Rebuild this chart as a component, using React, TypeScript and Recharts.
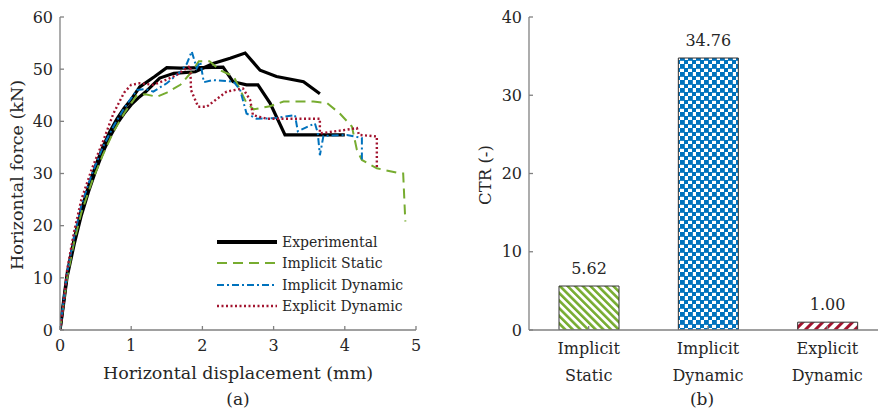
import { LineChart, Line, XAxis, YAxis, BarChart, Bar, Cell, LabelList } from "recharts";

const FONT = '"DejaVu Serif", serif';
const INK = "#262626";
const AXIS = "#808080";

const BLACK = "#000000";
const GREEN = "#77AC30";
const BLUE = "#0072BD";
const RED = "#A2142F";

// (a) force–displacement curves, x in mm, y in kN
const expAX = [0, 0.05, 0.1, 0.2, 0.3, 0.4, 0.5, 0.6, 0.7, 0.8, 0.9, 1.0, 1.1, 1.2, 1.4, 1.6, 1.9, 2.15, 2.39, 2.6, 2.81, 3.04, 3.42, 3.65];
const expAY = [0, 5, 10.2, 16.5, 22, 26.5, 30.5, 34, 37, 39.5, 41.5, 43.2, 44.5, 45.6, 48.3, 49.2, 49.5, 51.1, 52.1, 53.1, 49.8, 48.6, 47.6, 45.3];

const expBX = [0, 0.05, 0.1, 0.2, 0.3, 0.4, 0.5, 0.6, 0.7, 0.8, 0.9, 1.0, 1.12, 1.33, 1.5, 1.69, 2.29, 2.43, 2.62, 2.78, 2.95, 3.16, 4.0];
const expBY = [0, 5.5, 10.8, 17.5, 23, 27.5, 31.5, 35, 38, 40.5, 42.5, 44.2, 46.6, 48.6, 50.3, 50.2, 50.4, 47.6, 47.0, 47.0, 43.5, 37.4, 37.4];

const staticX = [0, 0.05, 0.1, 0.2, 0.3, 0.45, 0.6, 0.75, 0.9, 1.08, 1.2, 1.36, 1.5, 1.69, 1.85, 1.95, 2.1, 2.25, 2.44, 2.62, 2.72, 2.95, 3.14, 3.56, 3.75, 3.93, 4.1, 4.17, 4.24, 4.45, 4.78, 4.82, 4.85];
const staticY = [0, 5, 10, 17, 22.5, 28.5, 33.5, 38, 41.5, 45, 45.2, 44.7, 45.5, 47, 49.5, 51.5, 51.5, 49.8, 48.6, 43.5, 42.3, 42.9, 43.8, 43.8, 43.5, 41.5, 39, 34.5, 32.6, 31, 30, 30, 20.8];

const implDynX = [0, 0.05, 0.1, 0.2, 0.3, 0.45, 0.6, 0.75, 0.9, 1.08, 1.2, 1.31, 1.5, 1.69, 1.78, 1.85, 1.92, 1.97, 2.02, 2.15, 2.44, 2.53, 2.62, 2.76, 3.0, 3.3, 3.34, 3.45, 3.58, 3.62, 3.65, 3.7, 4.03, 4.24, 4.24];
const implDynY = [0, 5.5, 11, 18, 24, 30, 35, 39, 42.5, 46, 46.2, 45.7, 47.3, 49.5, 51, 53.4, 50.2, 51.4, 47.5, 47.9, 47.6, 46, 41.5, 40.5, 40.6, 41.2, 38.1, 38.8, 39.6, 37.8, 33.5, 37.2, 37.4, 36.8, 32.6];

const explDynX = [0, 0.05, 0.1, 0.2, 0.3, 0.45, 0.6, 0.75, 0.9, 1.0, 1.12, 1.31, 1.5, 1.64, 1.78, 1.83, 1.84, 1.94, 2.06, 2.34, 2.57, 2.67, 2.71, 2.9, 3.65, 3.65, 3.98, 4.17, 4.2, 4.45, 4.45];
const explDynY = [0, 5, 11.5, 19, 25, 31, 36, 41.5, 45.5, 47, 47.3, 47, 48, 48.9, 50.2, 50.6, 46, 42.8, 42.8, 45.7, 46.3, 44.1, 41.2, 40.5, 40.5, 37.7, 38.3, 38.7, 37.4, 37.1, 31];

const X_TICKS = [0, 1, 2, 3, 4, 5];
const Y_TICKS = [0, 10, 20, 30, 40, 50, 60];

// (b) computational time ratio
const methods = ["Implicit Static", "Implicit Dynamic", "Explicit Dynamic"];
const ctr = [5.62, 34.76, 1.0];
const barFills = ["url(#hatchGreen)", "url(#checkBlue)", "url(#hatchRed)"];
const CTR_TICKS = [0, 10, 20, 30, 40];

const toPoints = (xs: number[], ys: number[]) => xs.map((x, i) => ({ x, y: ys[i] }));

const series = [
    { name: "Experimental A", data: toPoints(expAX, expAY), color: BLACK, width: 3.2, dash: undefined },
    { name: "Experimental B", data: toPoints(expBX, expBY), color: BLACK, width: 3.2, dash: undefined },
    { name: "Implicit Static", data: toPoints(staticX, staticY), color: GREEN, width: 2, dash: "10 6" },
    { name: "Implicit Dynamic", data: toPoints(implDynX, implDynY), color: BLUE, width: 2, dash: "7 3 2 3" },
    { name: "Explicit Dynamic", data: toPoints(explDynX, explDynY), color: RED, width: 2.4, dash: "2 2.5" },
];

const legendItems = [
    { label: "Experimental", color: BLACK, width: 4, dash: undefined },
    { label: "Implicit Static", color: GREEN, width: 2, dash: "10 6" },
    { label: "Implicit Dynamic", color: BLUE, width: 2, dash: "7 3 2 3" },
    { label: "Explicit Dynamic", color: RED, width: 2.4, dash: "2 2.5" },
];

const barData = methods.map((name, i) => ({ name, ctr: ctr[i] }));

const tickStyle = { fill: INK, fontSize: 16, fontFamily: FONT };

function CategoryTick({ x, y, payload }: any) {
    const [first, second] = String(payload.value).split(" ");
    return (
        <text x={x} y={y} textAnchor="middle" fill={INK} fontSize={16} fontFamily={FONT}>
            <tspan x={x} dy={24}>{first}</tspan>
            <tspan x={x} dy={27}>{second}</tspan>
        </text>
    );
}

function Title({ x, y, text, size, rotate }: { x: number; y: number; text: string; size: number; rotate?: boolean }) {
    return (
        <div
            style={{
                position: "absolute",
                left: x,
                top: y,
                transform: `translate(-50%, -50%)${rotate ? " rotate(-90deg)" : ""}`,
                whiteSpace: "nowrap",
                fontFamily: FONT,
                fontSize: size,
                color: INK,
                lineHeight: 1,
            }}
        >
            {text}
        </div>
    );
}

export default function App() {
    return (
        <div
            style={{
                position: "fixed",
                left: 0,
                top: 0,
                width: 878,
                height: 412,
                overflow: "hidden",
                background: "#fff",
            }}
        >
            <div style={{ position: "absolute", left: 0, top: 0 }}>
                <LineChart width={430} height={412} margin={{ top: 17, right: 14, left: 0, bottom: 0 }}>
                    <XAxis
                        xAxisId="b"
                        type="number"
                        dataKey="x"
                        domain={[0, 5]}
                        ticks={X_TICKS}
                        allowDataOverflow
                        height={82}
                        stroke={AXIS}
                        strokeWidth={1.3}
                        tickSize={-4}
                        tickMargin={14}
                        tick={tickStyle}
                    />
                    <XAxis
                        xAxisId="t"
                        orientation="top"
                        type="number"
                        domain={[0, 5]}
                        ticks={[1, 2, 3, 4]}
                        allowDataOverflow
                        height={0}
                        stroke={AXIS}
                        strokeWidth={1.3}
                        tickSize={-4}
                        tick={false}
                    />
                    <YAxis
                        yAxisId="l"
                        type="number"
                        domain={[0, 60]}
                        ticks={Y_TICKS}
                        allowDataOverflow
                        width={60}
                        stroke={AXIS}
                        strokeWidth={1.3}
                        tickSize={-4}
                        tickMargin={11}
                        tick={tickStyle}
                    />
                    <YAxis
                        yAxisId="r"
                        orientation="right"
                        type="number"
                        domain={[0, 60]}
                        ticks={[10, 20, 30, 40, 50]}
                        allowDataOverflow
                        width={0}
                        stroke={AXIS}
                        strokeWidth={1.3}
                        tickSize={-4}
                        tick={false}
                    />
                    {series.map((s) => (
                        <Line
                            key={s.name}
                            xAxisId="b"
                            yAxisId="l"
                            data={s.data}
                            dataKey="y"
                            type="linear"
                            stroke={s.color}
                            strokeWidth={s.width}
                            strokeDasharray={s.dash}
                            dot={false}
                            activeDot={false}
                            isAnimationActive={false}
                        />
                    ))}
                </LineChart>
            </div>

            {/* legend for (a) */}
            <div style={{ position: "absolute", left: 217, top: 231 }}>
                {legendItems.map((it) => (
                    <div key={it.label} style={{ display: "flex", alignItems: "center", height: 21.5 }}>
                        <svg width={60} height={8}>
                            <line
                                x1={0}
                                y1={4}
                                x2={60}
                                y2={4}
                                stroke={it.color}
                                strokeWidth={it.width}
                                strokeDasharray={it.dash}
                            />
                        </svg>
                        <span style={{ marginLeft: 5, fontFamily: FONT, fontSize: 14, color: INK }}>
                            {it.label}
                        </span>
                    </div>
                ))}
            </div>

            <Title x={18} y={175} size={17.5} text="Horizontal force (kN)" rotate />
            <Title x={238} y={374} size={17.5} text="Horizontal displacement (mm)" />
            <Title x={238} y={399} size={17} text="(a)" />

            <div style={{ position: "absolute", left: 440, top: 0 }}>
                <BarChart
                    width={460}
                    height={412}
                    data={barData}
                    margin={{ top: 17, right: 13, left: 0, bottom: 0 }}
                    barSize={60}
                >
                    <defs>
                        <pattern
                            id="hatchGreen"
                            patternUnits="userSpaceOnUse"
                            width={5.4}
                            height={5.4}
                            patternTransform="rotate(-45)"
                        >
                            <rect width={5.4} height={5.4} fill="#fff" />
                            <rect width={2.6} height={5.4} fill={GREEN} />
                        </pattern>
                        <pattern id="checkBlue" patternUnits="userSpaceOnUse" width={8} height={8}>
                            <rect width={8} height={8} fill="#fff" />
                            <rect x={0} y={0} width={4.6} height={4.6} fill={BLUE} />
                            <rect x={4} y={4} width={4.6} height={4.6} fill={BLUE} />
                            <rect x={4} y={0} width={0.6} height={4} fill={BLUE} />
                            <rect x={0} y={4} width={4} height={0.6} fill={BLUE} />
                        </pattern>
                        <pattern
                            id="hatchRed"
                            patternUnits="userSpaceOnUse"
                            width={7}
                            height={7}
                            patternTransform="rotate(45)"
                        >
                            <rect width={7} height={7} fill="#fff" />
                            <rect width={3} height={7} fill={RED} />
                        </pattern>
                    </defs>
                    <XAxis
                        xAxisId="b"
                        dataKey="name"
                        height={82}
                        stroke={AXIS}
                        strokeWidth={1.3}
                        tickSize={-4}
                        tickMargin={4}
                        interval={0}
                        tick={<CategoryTick />}
                    />
                    <XAxis
                        xAxisId="t"
                        dataKey="name"
                        orientation="top"
                        height={0}
                        stroke={AXIS}
                        strokeWidth={1.3}
                        tickSize={-4}
                        tick={false}
                    />
                    <YAxis
                        yAxisId="l"
                        type="number"
                        domain={[0, 40]}
                        ticks={CTR_TICKS}
                        allowDataOverflow
                        width={89}
                        stroke={AXIS}
                        strokeWidth={1.3}
                        tickSize={-4}
                        tickMargin={11}
                        tick={tickStyle}
                    />
                    <YAxis
                        yAxisId="r"
                        orientation="right"
                        type="number"
                        domain={[0, 40]}
                        ticks={[10, 20, 30]}
                        allowDataOverflow
                        width={0}
                        stroke={AXIS}
                        strokeWidth={1.3}
                        tickSize={-4}
                        tick={false}
                    />
                    <Bar
                        xAxisId="b"
                        yAxisId="l"
                        dataKey="ctr"
                        stroke="#333"
                        strokeWidth={1}
                        isAnimationActive={false}
                    >
                        {barData.map((d, i) => (
                            <Cell key={d.name} fill={barFills[i]} />
                        ))}
                        <LabelList
                            dataKey="ctr"
                            position="top"
                            offset={12}
                            formatter={(v: any) => Number(v).toFixed(2)}
                            fill={INK}
                            fontSize={16}
                            fontFamily={FONT}
                        />
                    </Bar>
                </BarChart>
            </div>

            <Title x={486} y={175} size={16.5} text="CTR (-)" rotate />
            <Title x={702} y={399} size={17} text="(b)" />
        </div>
    );
}
